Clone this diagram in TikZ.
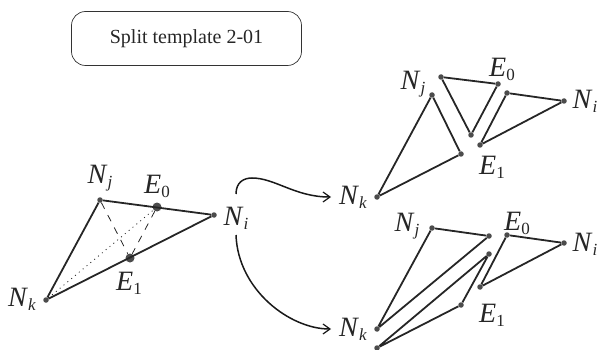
\documentclass[tikz,border=0pt]{standalone}
\usepackage{fontspec}
\setmainfont{Liberation Serif}
\usetikzlibrary{arrows.meta}
\newcommand{\Lb}[2]{\textit{#1}\raisebox{-0.3ex}{\fontsize{17}{17}\selectfont #2}}
\tikzset{
  dotn/.style={circle,fill=black!70,inner sep=0pt,minimum size=#1},
  dotn/.default=5.5pt,
  edge/.style={line width=1.8pt,black!85,line join=round},
  lab/.style={font=\fontsize{28}{28}\selectfont,text=black!85,inner sep=0pt},
}
\begin{document}
\begin{tikzpicture}[x=1pt,y=-1pt,>={Straight Barb[length=7pt,width=10pt,line width=1.2pt]}]
  \useasboundingbox (0,0) rectangle (600,350);
  % title box
  \node[draw=black!80,line width=0.7pt,rounded corners=14pt,minimum width=230pt,minimum height=54pt,
    font=\fontsize{20}{20}\selectfont,text=black!85] (title) at (186.5,38.5) {Split template 2-01};
  % source triangle
  \node[dotn] (Nj) at (100,200) {};
  \node[dotn] (Ni) at (214,215) {};
  \node[dotn] (Nk) at (46,300) {};
  \node[dotn=9pt] (E0) at (157,207) {};
  \node[dotn=9pt] (E1) at (130,258) {};
  \draw[edge] (Nj) -- (Ni) -- (Nk) -- (Nj);
  \draw[black!85,dash pattern=on 7pt off 7pt,line width=0.8pt] (Nj) -- (E1);
  \draw[black!85,dash pattern=on 7pt off 7pt,line width=0.8pt] (E0) -- (E1);
  \draw[black!85,dash pattern=on 1pt off 4pt,line width=0.8pt] (Nk) -- (E0);
  \node[lab] (lNj) at (100,178) {\Lb{N}{\textit{j}}};
  \node[lab] (lE0) at (157,186) {\Lb{E}{0}};
  \node[lab] (lNi) at (236,218) {\Lb{N}{\textit{i}}};
  \node[lab] (lNk) at (22,299) {\Lb{N}{\textit{k}}};
  \node[lab] (lE1) at (129,283) {\Lb{E}{1}};
  % upper split
  \node[dotn] (aNj) at (441,77) {};
  \node[dotn] (aE0) at (498,84) {};
  \node[dotn] (aE1) at (471,135) {};
  \draw[edge] (aNj) -- (aE0) -- (aE1) -- (aNj);
  \node[dotn] (bNj) at (432,95) {};
  \node[dotn] (bE1) at (461,154) {};
  \node[dotn] (bNk) at (377,197) {};
  \draw[edge] (bNj) -- (bE1) -- (bNk) -- (bNj);
  \node[dotn] (cE0) at (507,93) {};
  \node[dotn] (cNi) at (564,101) {};
  \node[dotn] (cE1) at (480,145) {};
  \draw[edge] (cE0) -- (cNi) -- (cE1) -- (cE0);
  \node[lab] (lbNj) at (413,84) {\Lb{N}{\textit{j}}};
  \node[lab] (laE0) at (502,69) {\Lb{E}{0}};
  \node[lab] (lcNi) at (585,101) {\Lb{N}{\textit{i}}};
  \node[lab] (lbNk) at (353,197) {\Lb{N}{\textit{k}}};
  \node[lab] (lcE1) at (492,167) {\Lb{E}{1}};
  % lower split
  \node[dotn] (dNj) at (432,228) {};
  \node[dotn] (dE0) at (489,236) {};
  \node[dotn] (dNk) at (377,329) {};
  \draw[edge] (dNj) -- (dE0) -- (dNk) -- (dNj);
  \node[dotn] (eE0) at (489,254) {};
  \node[dotn] (eE1) at (461,305) {};
  \node[dotn] (eNk) at (377,348) {};
  \draw[edge] (eE0) -- (eE1) -- (eNk) -- (eE0);
  \node[dotn] (fE0) at (507,235) {};
  \node[dotn] (fNi) at (564,243) {};
  \node[dotn] (fE1) at (480,287) {};
  \draw[edge] (fE0) -- (fNi) -- (fE1) -- (fE0);
  \node[lab] (ldNj) at (407,226) {\Lb{N}{\textit{j}}};
  \node[lab] (lfE0) at (517,223) {\Lb{E}{0}};
  \node[lab] (lfNi) at (585,244) {\Lb{N}{\textit{i}}};
  \node[lab] (ldNk) at (353,329) {\Lb{N}{\textit{k}}};
  \node[lab] (lfE1) at (492,315) {\Lb{E}{1}};
  % arrows
  \coordinate (up) at (236,194);
  \coordinate (dn) at (236,235);
  \coordinate (upend) at (331,197);
  \coordinate (dnend) at (331,329);
  \draw[->,line width=1.5pt,black!90] (up) .. controls (236,182) and (244,178) .. (252,178)
    .. controls (275,178) and (295,197) .. (upend);
  \draw[->,line width=1.5pt,black!90] (dn) .. controls (238,290) and (290,329) .. (dnend);
\end{tikzpicture}
\end{document}
